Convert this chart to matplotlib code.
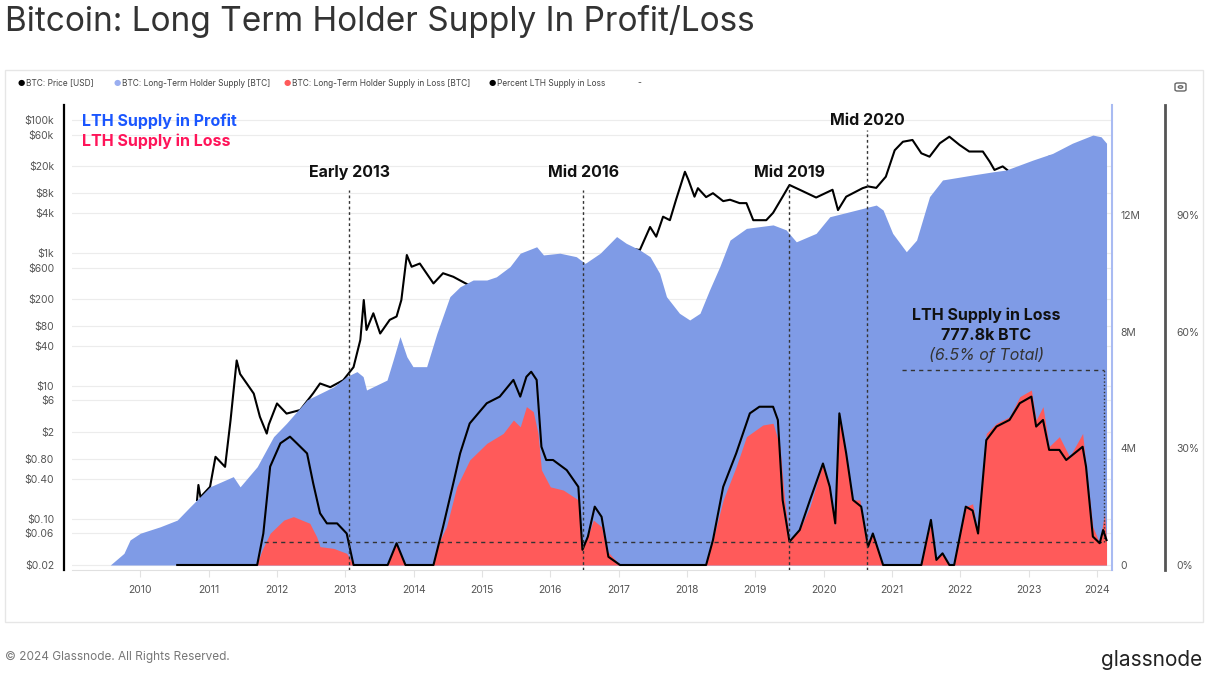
import matplotlib
matplotlib.use("Agg")
import matplotlib.pyplot as plt
from matplotlib.patches import Rectangle, Circle, FancyBboxPatch
from matplotlib.ticker import NullLocator

plt.rcParams["font.family"] = ["Inter", "DejaVu Sans"]

# --- data (decimal years) ---
price_t = [2010.83, 2010.85, 2010.88, 2011.02, 2011.10, 2011.24, 2011.32, 2011.41, 2011.46, 2011.56,
           2011.66, 2011.75, 2011.85, 2011.88, 2012.0, 2012.14, 2012.34, 2012.53, 2012.63, 2012.78,
           2012.97, 2013.12, 2013.22, 2013.27, 2013.31, 2013.41, 2013.51, 2013.65, 2013.75, 2013.82,
           2013.90, 2013.97, 2014.09, 2014.29, 2014.43, 2014.58, 2014.73, 2014.80, 2015.0, 2015.1,
           2015.5, 2015.9, 2016.0, 2016.5, 2016.9, 2017.0, 2017.2, 2017.31, 2017.46, 2017.55,
           2017.65, 2017.75, 2017.84, 2017.97, 2018.02, 2018.11, 2018.16, 2018.28, 2018.38, 2018.53,
           2018.63, 2018.77, 2018.87, 2018.97, 2019.16, 2019.26, 2019.40, 2019.50, 2019.65, 2019.89,
           2020.13, 2020.21, 2020.33, 2020.57, 2020.65, 2020.77, 2020.91, 2021.04, 2021.16, 2021.30,
           2021.43, 2021.55, 2021.70, 2021.84, 2021.99, 2022.13, 2022.33, 2022.43, 2022.50, 2022.62,
           2022.72, 2022.9, 2023.0, 2023.3, 2023.6, 2023.8, 2024.0, 2024.10]
price_v = [0.19, 0.32, 0.21, 0.30, 0.85, 0.6, 3.0, 24, 15, 10.7,
           7.6, 3.4, 1.9, 2.6, 5.4, 3.8, 4.3, 7.7, 10.8, 9.5,
           12.1, 19, 49, 195, 69, 123, 61, 98, 110, 195,
           927, 617, 690, 346, 493, 436, 360, 330, 300, 220,
           250, 380, 430, 650, 750, 1000, 1150, 1100, 2450, 1750,
           3500, 3100, 6300, 16600, 12600, 7000, 9400, 6900, 7900, 6000,
           6300, 5600, 5600, 3100, 3100, 4000, 7000, 10500, 8900, 6800,
           8900, 4400, 7000, 9400, 10000, 9500, 14000, 35000, 47000, 50000,
           31500, 28000, 44600, 56000, 42000, 33500, 33500, 23600, 17700, 20000,
           16600, 16500, 16600, 28000, 29000, 27000, 42000, 42500]

supply_t = [2009.56, 2009.76, 2009.85, 2010.0, 2010.29, 2010.54, 2010.73, 2011.02, 2011.36, 2011.46,
            2011.71, 2011.95, 2012.14, 2012.44, 2012.83, 2013.02, 2013.17, 2013.26, 2013.31, 2013.61,
            2013.70, 2013.80, 2013.90, 2013.99, 2014.19, 2014.34, 2014.53, 2014.68, 2014.87, 2015.07,
            2015.21, 2015.41, 2015.56, 2015.80, 2015.90, 2016.14, 2016.38, 2016.51, 2016.73, 2016.97,
            2017.11, 2017.31, 2017.46, 2017.60, 2017.70, 2017.89, 2018.04, 2018.19, 2018.33, 2018.48,
            2018.63, 2018.87, 2019.26, 2019.45, 2019.60, 2019.89, 2020.09, 2020.38, 2020.77, 2020.87,
            2021.01, 2021.21, 2021.36, 2021.55, 2021.74, 2022.18, 2022.48, 2022.67, 2023.06, 2023.35,
            2023.64, 2023.94, 2024.06, 2024.14]
supply_v = [0, 0.40, 0.86, 1.09, 1.31, 1.54, 2.0, 2.68, 3.03, 2.68,
            3.37, 4.40, 4.86, 5.66, 6.11, 6.46, 6.63, 6.46, 6.0, 6.34,
            7.03, 7.83, 7.14, 6.80, 6.80, 7.94, 9.20, 9.54, 9.77, 9.77,
            9.88, 10.23, 10.69, 10.91, 10.63, 10.69, 10.57, 10.34, 10.69, 11.26,
            11.03, 10.80, 10.57, 10.0, 9.20, 8.63, 8.40, 8.63, 9.43, 10.23,
            11.14, 11.54, 11.66, 11.49, 11.08, 11.37, 11.94, 12.11, 12.34, 12.17,
            11.37, 10.74, 11.14, 12.63, 13.20, 13.37, 13.48, 13.54, 13.88, 14.11,
            14.46, 14.74, 14.68, 14.46]

loss_t = [2011.70, 2011.78, 2011.90, 2012.10, 2012.24, 2012.48, 2012.58, 2012.63, 2012.83, 2013.02,
          2013.10, 2013.12, 2013.62, 2013.75, 2013.88, 2014.28, 2014.34, 2014.48, 2014.63, 2014.82,
          2015.07, 2015.31, 2015.46, 2015.56, 2015.65, 2015.75, 2015.82, 2015.87, 2016.0, 2016.19,
          2016.41, 2016.46, 2016.53, 2016.63, 2016.75, 2016.82, 2017.02, 2018.28, 2018.38, 2018.53,
          2018.72, 2018.87, 2019.11, 2019.26, 2019.36, 2019.43, 2019.50, 2019.65, 2019.80, 2019.99,
          2020.09, 2020.17, 2020.23, 2020.33, 2020.43, 2020.53, 2020.62, 2020.72, 2020.87, 2021.43,
          2021.57, 2021.65, 2021.74, 2021.84, 2021.91, 2022.08, 2022.18, 2022.26, 2022.38, 2022.53,
          2022.72, 2022.87, 2023.04, 2023.11, 2023.21, 2023.30, 2023.45, 2023.60, 2023.79, 2023.84,
          2023.94, 2024.04, 2024.11, 2024.14]
loss_v = [0, 0.5, 1.09, 1.54, 1.66, 1.43, 0.97, 0.63, 0.57, 0.40,
          0.1, 0, 0, 0.74, 0, 0, 0.63, 1.31, 2.68, 3.60,
          4.17, 4.51, 4.97, 4.74, 5.43, 5.26, 4.51, 3.26, 2.68, 2.57,
          2.23, 0.63, 0.86, 1.54, 1.31, 0.51, 0, 0, 0.86, 2.23,
          3.37, 4.40, 4.80, 4.86, 4.06, 2.23, 0.86, 1.20, 2.0, 3.49,
          2.68, 1.31, 5.20, 3.83, 2.23, 2.23, 0.74, 1.09, 0, 0,
          1.49, 0.17, 0.40, 0, 0, 2.0, 2.1, 1.09, 4.51, 4.86,
          5.08, 5.77, 6.0, 4.97, 5.43, 4.06, 4.40, 3.71, 4.51, 3.37,
          1.31, 0.74, 1.77, 0.78]

pct_t = [2010.54, 2011.71, 2011.80, 2011.90, 2012.05, 2012.19, 2012.29, 2012.44, 2012.53, 2012.63,
         2012.73, 2012.88, 2013.02, 2013.12, 2013.62, 2013.75, 2013.88, 2014.29, 2014.43, 2014.58,
         2014.68, 2014.82, 2015.07, 2015.26, 2015.46, 2015.56, 2015.65, 2015.72, 2015.80, 2015.87,
         2015.94, 2016.04, 2016.24, 2016.41, 2016.47, 2016.55, 2016.65, 2016.75, 2016.85, 2017.02,
         2018.28, 2018.38, 2018.53, 2018.72, 2018.92, 2019.06, 2019.26, 2019.33, 2019.40, 2019.50,
         2019.65, 2019.80, 2019.99, 2020.09, 2020.17, 2020.23, 2020.33, 2020.43, 2020.55, 2020.65,
         2020.72, 2020.87, 2021.43, 2021.57, 2021.65, 2021.74, 2021.84, 2021.91, 2022.08, 2022.18,
         2022.26, 2022.38, 2022.53, 2022.72, 2022.87, 2023.04, 2023.11, 2023.21, 2023.30, 2023.45,
         2023.55, 2023.79, 2023.84, 2023.94, 2024.04, 2024.09, 2024.14]
pct_v = [0, 0, 8.1, 25.3, 31.3, 33.0, 31.3, 28.7, 21.0, 13.3,
         10.7, 10.7, 8.1, 0, 0, 5.6, 0, 0, 9.8, 21.0,
         28.7, 36.4, 41.6, 43.3, 47.6, 43.3, 48.4, 49.7, 47.6, 30.4,
         27, 27, 24.4, 20.1, 3.9, 7.3, 15, 12.4, 2.1, 0,
         0, 6.4, 20.1, 28.7, 39, 40.7, 40.7, 37.3, 16.7, 6.0,
         9.0, 16.7, 26.1, 20.1, 10.7, 39, 28.7, 16.7, 15, 4.7,
         8.1, 0, 0, 11.6, 1.3, 3.0, 0, 0, 15, 14,
         8.1, 32.1, 35.6, 37.3, 41.6, 43.3, 35.6, 37.3, 29.6, 29.6,
         27, 30.4, 25.3, 7.3, 5.6, 9.0, 6.4]

events = ["Early 2013", "Mid 2016", "Mid 2019", "Mid 2020"]
event_t = [2013.06, 2016.48, 2019.50, 2020.64]

years = list(range(2010, 2025))
price_ticks = [0.02, 0.06, 0.10, 0.40, 0.80, 2, 6, 10, 40, 80, 200, 600, 1000, 4000, 8000, 20000, 60000, 100000]
price_labels = ["$0.02", "$0.06", "$0.10", "$0.40", "$0.80", "$2", "$6", "$10", "$40", "$80",
                "$200", "$600", "$1k", "$4k", "$8k", "$20k", "$60k", "$100k"]
supply_ticks = [0, 4, 8, 12]
supply_labels = ["0", "4M", "8M", "12M"]
pct_ticks = [0, 30, 60, 90]
pct_labels = ["0%", "30%", "60%", "90%"]

loss_now = 0.7778   # 777.8k BTC
loss_box_top = 6.68

BLUE = "#7f9be6"
RED = "#ff5a5a"
W, H = 1208, 686

fig = plt.figure(figsize=(W / 100, H / 100), dpi=100)
fig.patch.set_facecolor("white")
ax = fig.add_axes([72 / W, 1 - 570 / H, (1112 - 72) / W, 465 / H])
ax2 = ax.twinx()
ax3 = ax.twinx()

# price (log)
ax.plot(price_t, price_v, color="black", lw=1.5, zorder=3)
ax.set_yscale("log")
ax.set_ylim(0.0168, 168000)
ax.set_yticks(price_ticks)
ax.set_yticklabels(price_labels)
ax.yaxis.set_minor_locator(NullLocator())
ax.set_xlim(2009.0, 2024.22)
ax.set_xticks(years)
ax.set_xticklabels([str(y) for y in years])
ax.grid(axis="y", color="#ececec", lw=0.8)
ax.set_axisbelow(True)
ax.tick_params(axis="y", length=0, pad=7, labelsize=7.5, labelcolor="#555")
ax.tick_params(axis="x", length=5, color="#e2e2e2", pad=6, labelsize=7.5, labelcolor="#555")
for s in ["top", "right"]:
    ax.spines[s].set_visible(False)
ax.spines["bottom"].set_color("#e0e0e0")
ax.spines["left"].set_position(("outward", 6))
ax.spines["left"].set_linewidth(1.6)

# supply areas
ax2.fill_between(supply_t, 0, supply_v, color=BLUE, lw=0, zorder=1)
ax2.fill_between(loss_t, 0, loss_v, color=RED, lw=0, zorder=2)
ax2.set_ylim(-0.171, 15.77)
ax2.set_yticks(supply_ticks)
ax2.set_yticklabels(supply_labels)
ax2.tick_params(axis="y", length=0, pad=6, labelsize=7.5, labelcolor="#555")
for s in ["top", "left", "bottom"]:
    ax2.spines[s].set_visible(False)
ax2.spines["right"].set_color("#a9bbf2")
ax2.spines["right"].set_linewidth(1.5)

# callout lines
ax2.hlines(loss_now, 2011.81, 2024.11, colors="#333", lw=1, linestyles=(0, (3, 3)), zorder=4)
ax2.hlines(loss_box_top, 2021.15, 2024.11, colors="#333", lw=1, linestyles=(0, (3, 3)), zorder=4)
ax2.vlines(2024.11, loss_now, loss_box_top, colors="#333", lw=1, linestyles=(0, (1, 1.5)), zorder=4)
ax2.text(2022.38, 8.57, "LTH Supply in Loss", ha="center", va="center", fontsize=11.5,
         fontweight="bold", color="#111", zorder=5)
ax2.text(2022.38, 7.88, "777.8k BTC", ha="center", va="center", fontsize=11.5,
         fontweight="bold", color="#111", zorder=5)
ax2.text(2022.38, 7.20, "(6.5% of Total)", ha="center", va="center", fontsize=11.5,
         style="italic", color="#333", zorder=5)

# percent line
ax3.plot(pct_t, pct_v, color="black", lw=1.5, zorder=3)
ax3.set_ylim(-1.29, 118.3)
ax3.set_yticks(pct_ticks)
ax3.set_yticklabels(pct_labels)
ax3.tick_params(axis="y", length=0, pad=8, labelsize=7.5, labelcolor="#555")
for s in ["top", "left", "bottom"]:
    ax3.spines[s].set_visible(False)
ax3.spines["right"].set_position(("outward", 38))
ax3.spines["right"].set_color("#555")
ax3.spines["right"].set_linewidth(2)

# event markers
line_top = [0.817, 0.817, 0.828, 0.946]
label_y = [0.854, 0.854, 0.854, 0.966]
for name, t, lt, ly in zip(events, event_t, line_top, label_y):
    ax3.axvline(t, ymin=0, ymax=lt, color="#333", lw=1, ls=(0, (2, 2)), zorder=4)
    ax3.text(t, ly, name, transform=ax3.get_xaxis_transform(), ha="center", va="center",
             fontsize=11.5, fontweight="bold", color="#111", zorder=5)

ax3.text(0.01, 0.966, "LTH Supply in Profit", transform=ax3.transAxes, ha="left", va="center",
         fontsize=11.5, fontweight="bold", color="#1a56ff")
ax3.text(0.01, 0.921, "LTH Supply in Loss", transform=ax3.transAxes, ha="left", va="center",
         fontsize=11.5, fontweight="bold", color="#ff1459")

# title, card, legend row, footer
fig.text(5 / W, 1 - 22 / H, "Bitcoin: Long Term Holder Supply In Profit/Loss", ha="left", va="center",
         fontsize=24, color="#333")
fig.add_artist(Rectangle((5 / W, 1 - 622 / H), 1198 / W, 552 / H, transform=fig.transFigure,
                         fill=False, ec="#e6e6e6", lw=1))
legend_items = [("BTC: Price [USD]", "black", 18),
                ("BTC: Long-Term Holder Supply [BTC]", "#9aaef0", 114),
                ("BTC: Long-Term Holder Supply in Loss [BTC]", RED, 284),
                ("Percent LTH Supply in Loss", "black", 489)]
for label, col, x in legend_items:
    fig.text(x / W, 1 - 83 / H, "\u25cf", color=col, fontsize=6, ha="left", va="center",
             family=["DejaVu Sans"])
    fig.text((x + 8) / W, 1 - 83 / H, label, color="#444", fontsize=6, ha="left", va="center")
fig.text(637 / W, 1 - 83 / H, "-", color="#444", fontsize=6, ha="left", va="center")

# camera icon
fig.add_artist(FancyBboxPatch((1175 / W, 1 - 91 / H), 11 / W, 8 / H, boxstyle="round,pad=0,rounding_size=0.002",
                              transform=fig.transFigure, fill=False, ec="#666", lw=1))
fig.add_artist(Circle((1180.5 / W, 1 - 87 / H), 2.2 / W, transform=fig.transFigure,
                      fill=False, ec="#666", lw=1))

fig.text(5 / W, 1 - 657 / H, "\u00a9 2024 Glassnode. All Rights Reserved.", ha="left", va="center",
         fontsize=8.5, color="#777")
fig.text(1202 / W, 1 - 660 / H, "glassnode", ha="right", va="center", fontsize=15, color="#222")

fig.savefig("out.png", dpi=100, facecolor="white")
